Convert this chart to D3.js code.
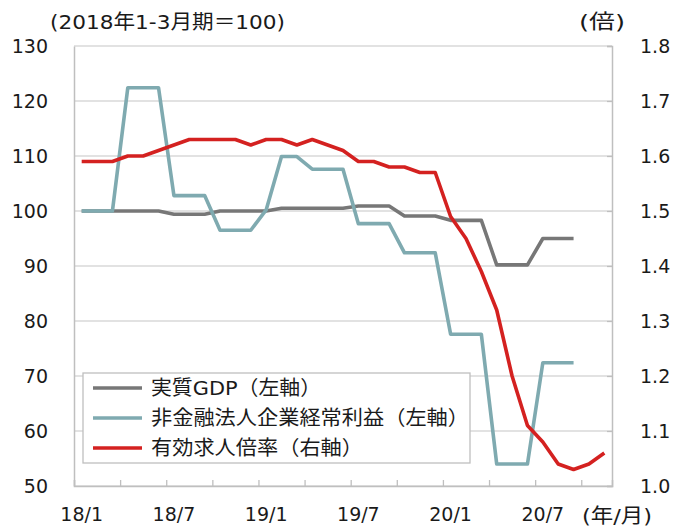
<!DOCTYPE html>
<html>
<head>
<meta charset="utf-8">
<script src="https://cdn.jsdelivr.net/npm/d3@7"></script>
<style>
  body { margin: 0; background: #fff; }
  svg text { font-family: "DejaVu Sans", "Noto Sans CJK JP", sans-serif; fill: #1a1a1a; }
</style>
</head>
<body>
<div id="graph"></div>
<script>
// months on the category axis
var months = ['18/1','18/2','18/3','18/4','18/5','18/6','18/7','18/8','18/9','18/10','18/11','18/12',
              '19/1','19/2','19/3','19/4','19/5','19/6','19/7','19/8','19/9','19/10','19/11','19/12',
              '20/1','20/2','20/3','20/4','20/5','20/6','20/7','20/8','20/9','20/10','20/11'];

// 実質GDP (left axis)
var gdp = [100, 100, 100, 100, 100, 100, 99.4, 99.4, 99.4, 100, 100, 100,
           100, 100.5, 100.5, 100.5, 100.5, 100.5, 100.9, 100.9, 100.9, 99.1, 99.1, 99.1,
           98.3, 98.3, 98.3, 90.2, 90.2, 90.2, 95.0, 95.0, 95.0];

// 非金融法人企業経常利益 (left axis)
var profit = [100, 100, 100, 122.4, 122.4, 122.4, 102.8, 102.8, 102.8, 96.5, 96.5, 96.5,
              100.2, 109.9, 109.9, 107.6, 107.6, 107.6, 97.7, 97.7, 97.7, 92.4, 92.4, 92.4,
              77.6, 77.6, 77.6, 54.0, 54.0, 54.0, 72.4, 72.4, 72.4];

// 有効求人倍率 (right axis)
var jobs = [1.59, 1.59, 1.59, 1.60, 1.60, 1.61, 1.62, 1.63, 1.63, 1.63, 1.63, 1.62,
            1.63, 1.63, 1.62, 1.63, 1.62, 1.61, 1.59, 1.59, 1.58, 1.58, 1.57, 1.57,
            1.49, 1.45, 1.39, 1.32, 1.20, 1.11, 1.08, 1.04, 1.03, 1.04, 1.06];

var leftTicks  = [50, 60, 70, 80, 90, 100, 110, 120, 130];
var rightTicks = [1.0, 1.1, 1.2, 1.3, 1.4, 1.5, 1.6, 1.7, 1.8];
var xLabels    = ['18/1', '18/7', '19/1', '19/7', '20/1', '20/7'];

var legendNames = ['実質GDP（左軸）', '非金融法人企業経常利益（左軸）', '有効求人倍率（右軸）'];
var legendWidth = [170, 318, 212];
var colours     = ['#777777', '#7faab0', '#d42120'];

var W = 680, H = 530;
var plot = { left: 74, right: 612, top: 46, bottom: 486 };

var svg = d3.select('#graph').append('svg')
            .attr('width', W)
            .attr('height', H);

var x = d3.scaleBand().domain(months).range([plot.left, plot.right]).padding(0);
var xi = d3.scaleLinear().domain([0, months.length]).range([plot.left, plot.right]);
var yL = d3.scaleLinear().domain([50, 130]).range([plot.bottom, plot.top]);
var yR = d3.scaleLinear().domain([1.0, 1.8]).range([plot.bottom, plot.top]);

// gridlines
svg.append('g')
   .selectAll('line')
   .data(leftTicks)
   .enter().append('line')
   .attr('x1', plot.left).attr('x2', plot.right)
   .attr('y1', function (d) { return yL(d); })
   .attr('y2', function (d) { return yL(d); })
   .attr('stroke', '#d9d9d9')
   .attr('stroke-width', 1.3);

// left axis
var gL = svg.append('g')
   .attr('transform', 'translate(' + plot.left + ',0)')
   .call(d3.axisLeft(yL).tickValues(leftTicks).tickSize(0).tickPadding(26).tickFormat(d3.format('d')));

// right axis
var gR = svg.append('g')
   .attr('transform', 'translate(' + plot.right + ',0)')
   .call(d3.axisRight(yR).tickValues(rightTicks).tickSize(-5).tickPadding(28).tickFormat(d3.format('.1f')));

// bottom axis: tick marks at every third month boundary
var gB = svg.append('g')
   .attr('transform', 'translate(0,' + plot.bottom + ')')
   .call(d3.axisBottom(xi).tickValues(d3.range(0, months.length, 3)).tickSize(-6).tickFormat(''));

// bottom labels at month centres
var gBL = svg.append('g')
   .attr('transform', 'translate(0,' + plot.bottom + ')')
   .call(d3.axisBottom(x).tickValues(xLabels).tickSize(0).tickPadding(22));

[gL, gR, gB, gBL].forEach(function (g) {
    g.selectAll('.domain').attr('stroke', '#bfbfbf').attr('stroke-width', 1.5);
    g.selectAll('.tick line').attr('stroke', '#bfbfbf').attr('stroke-width', 1.3);
    g.selectAll('text').style('font-size', '19px').attr('fill', '#1a1a1a');
});
gBL.select('.domain').remove();
gL.selectAll('text').attr('dy', '0.35em');
gR.selectAll('text').attr('dy', '0.35em');

// series
var lineL = d3.line()
    .x(function (d, i) { return x(months[i]) + x.bandwidth() / 2; })
    .y(function (d) { return yL(d); });
var lineR = d3.line()
    .x(function (d, i) { return x(months[i]) + x.bandwidth() / 2; })
    .y(function (d) { return yR(d); });

var series = [ { data: gdp, line: lineL }, { data: profit, line: lineL }, { data: jobs, line: lineR } ];

series.forEach(function (s, k) {
    svg.append('path')
       .datum(s.data)
       .attr('d', s.line)
       .attr('fill', 'none')
       .attr('stroke', colours[k])
       .attr('stroke-width', 3.6)
       .attr('stroke-linejoin', 'round');
});

// unit labels
var units = [ { t: '(2018年1-3月期＝100)', x: 50, y: 29, w: 235 },
              { t: '(倍)', x: 579, y: 29, w: 46 },
              { t: '(年/月)', x: 582, y: 523, w: 70 } ];
units.forEach(function (u) {
    svg.append('text')
       .attr('x', u.x).attr('y', u.y)
       .attr('textLength', u.w).attr('lengthAdjust', 'spacingAndGlyphs')
       .style('font-size', '20px')
       .text(u.t);
});

// legend
var legend = svg.append('g');
legend.append('rect')
      .attr('x', 83).attr('y', 373)
      .attr('width', 387).attr('height', 90)
      .attr('fill', '#fff')
      .attr('stroke', '#bfbfbf')
      .attr('stroke-width', 1.3);

legendNames.forEach(function (name, k) {
    var ly = 388 + k * 30;
    legend.append('line')
          .attr('x1', 93).attr('x2', 142)
          .attr('y1', ly).attr('y2', ly)
          .attr('stroke', colours[k])
          .attr('stroke-width', 3.6);
    legend.append('text')
          .attr('x', 151).attr('y', ly)
          .attr('dy', '0.36em')
          .attr('textLength', legendWidth[k]).attr('lengthAdjust', 'spacingAndGlyphs')
          .style('font-size', '20px')
          .text(name);
});
</script>
</body>
</html>
